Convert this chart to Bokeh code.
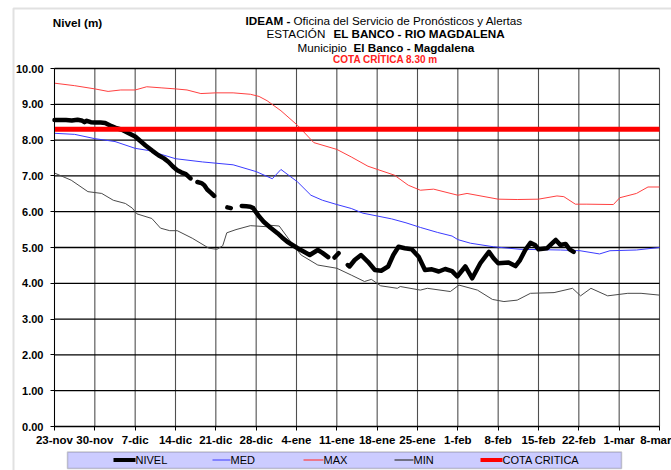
from bokeh.plotting import figure
from bokeh.models import FixedTicker, PrintfTickFormatter, Label, BoxAnnotation, Range1d
from bokeh.embed import file_html
from bokeh.resources import INLINE

nan = float("nan")

# x axis: days since 23-nov
tick_days = [0, 7, 14, 21, 28, 35, 42, 49, 56, 63, 70, 77, 84, 91, 98, 105]
tick_labels = ["23-nov", "30-nov", "7-dic", "14-dic", "21-dic", "28-dic", "4-ene", "11-ene",
               "18-ene", "25-ene", "1-feb", "8-feb", "15-feb", "22-feb", "1-mar", "8-mar"]
y_ticks = [0, 1, 2, 3, 4, 5, 6, 7, 8, 9, 10]

nivel_day = [0, 1, 2, 3, 4, 4.7, 5.2, 5.6, 6.3, 7, 8, 8.8, 9.9, 10.8, 11.7, 12.8, 14, 15, 15.8, 17,
             18.1, 19, 19.8, 20.5, 21.3, 22, 22.8, 23.6, nan,
             24.8, 25.5, 26, 26.5, 27.2, 27.7, nan,
             30, 30.6, nan,
             32.5, 33.3, 34, 34.5, 34.9, 35.6, 36.3, 37.5, 38.7, 39.5, 40.4, 41.3, 42.2, 43.3, 44.3,
             45, 45.7, 46.5, 47.5, nan,
             48.6, 49.3, nan,
             50.9, 51.2, 52.1, 53.2, 54.4, 55.6, 56.7, 57.9, 58.8, 59.7, 60.8, 62, 63.2, 64.3, 65.5,
             66.7, 67.8, 69, 69.9, 71.3, 72.5, 73.9, 75.4, 76.2, 77, 78.8, 80, 80.8, 81.7, 82.6,
             83.4, 84, 85.5, 86.4, 87, 87.8, 88.7, 89.4, 90.1]
nivel_val = [8.56, 8.56, 8.56, 8.55, 8.57, 8.55, 8.50, 8.54, 8.50, 8.49, 8.49, 8.48, 8.39, 8.33, 8.29,
             8.20, 8.10, 7.96, 7.85, 7.70, 7.57, 7.49, 7.39, 7.27, 7.16, 7.10, 7.05, 6.93, nan,
             6.83, 6.80, 6.74, 6.62, 6.52, 6.44, nan,
             6.12, 6.10, nan,
             6.16, 6.15, 6.14, 6.10, 6.00, 5.85, 5.72, 5.55, 5.40, 5.28, 5.16, 5.07, 4.98, 4.88, 4.79,
             4.86, 4.93, 4.85, 4.73, nan,
             4.72, 4.84, nan,
             4.51, 4.47, 4.65, 4.79, 4.60, 4.37, 4.35, 4.47, 4.79, 5.02, 4.98, 4.95, 4.74, 4.37, 4.39,
             4.33, 4.40, 4.34, 4.19, 4.47, 4.14, 4.56, 4.88, 4.70, 4.56, 4.58, 4.48, 4.65, 4.93, 5.13,
             5.07, 4.95, 4.98, 5.12, 5.21, 5.07, 5.10, 4.95, 4.88]

med_day = [0, 3.5, 7, 10.5, 14, 16.3, 21, 25.7, 31, 35, 37.8, 39.3, 42.2, 44.5, 46.5, 49, 51.5, 53.5,
           56, 58.5, 61, 63.5, 66.5, 69, 70, 72.2, 76.2, 80.8, 87.8, 91.2, 94.6, 96.4, 101, 105]
med_val = [8.19, 8.16, 8.04, 7.96, 7.77, 7.71, 7.48, 7.39, 7.31, 7.12, 6.92, 7.18, 6.83, 6.46, 6.32,
           6.20, 6.09, 5.96, 5.88, 5.80, 5.69, 5.56, 5.42, 5.32, 5.22, 5.12, 5.02, 4.95, 4.93, 4.91,
           4.82, 4.91, 4.93, 5.00]

max_day = [0, 3.5, 7, 9.3, 11.5, 14, 16, 18.5, 21, 23, 25.4, 28, 31, 34, 35.5, 36.9, 39.3, 42.2, 45,
           49, 51.5, 54.4, 59, 61.4, 63.5, 65.8, 70, 71.6, 77, 80.3, 84, 87.2, 88.4, 90.4, 92.4, 97,
           98.1, 101, 103, 105]
max_val = [9.59, 9.52, 9.43, 9.36, 9.40, 9.40, 9.49, 9.46, 9.43, 9.40, 9.30, 9.32, 9.32, 9.28, 9.22,
           9.10, 8.82, 8.41, 7.93, 7.74, 7.53, 7.27, 7.02, 6.74, 6.60, 6.63, 6.46, 6.51, 6.35, 6.34,
           6.35, 6.44, 6.42, 6.21, 6.21, 6.20, 6.39, 6.51, 6.69, 6.69]

min_day = [0, 2.9, 5.8, 8.2, 10.2, 12.3, 13.5, 14.3, 16.9, 18.4, 20, 21.3, 23.9, 26.8, 28.2, 29.2,
           29.9, 31.5, 34, 36.9, 37.5, 39, 41, 42.8, 45.7, 49, 51.5, 53.8, 55, 56.6, 59.5, 60, 63.5,
           64.7, 68.7, 70.2, 73.4, 76, 78, 80.3, 82.6, 86.7, 89.9, 91.3, 93.1, 96, 99.5, 101.8, 105]
min_val = [7.08, 6.88, 6.56, 6.51, 6.32, 6.23, 6.10, 5.94, 5.81, 5.54, 5.47, 5.47, 5.26, 4.98, 4.95,
           5.05, 5.41, 5.50, 5.61, 5.58, 5.62, 5.60, 5.16, 4.79, 4.51, 4.42, 4.23, 4.05, 4.11, 3.93,
           3.86, 3.91, 3.81, 3.86, 3.77, 3.95, 3.81, 3.55, 3.49, 3.53, 3.72, 3.74, 3.86, 3.65, 3.86,
           3.65, 3.72, 3.72, 3.67]

cota_day = [0, 105]
cota_val = [8.30, 8.30]

FONT = "Liberation Sans"

# page layout (pixels); the frame covers the whole canvas, the chart region sits inside it
W, H = 671, 470
CL, CT, CR, CB = 54, 68, 659, 426          # chart (axes) region in pixels
X0, X1 = tick_days[0], tick_days[-1]
Y0, Y1 = y_ticks[0], y_ticks[-1]
xs = (X1 - X0) / (CR - CL)
ys = (Y1 - Y0) / (CB - CT)

p = figure(width=W, height=H, output_backend="svg", toolbar_location=None,
           x_range=Range1d(X0 - CL * xs, X1 + (W - CR) * xs),
           y_range=Range1d(Y0 - (H - CB) * ys, Y1 + CT * ys),
           min_border=0)
p.outline_line_color = None
p.background_fill_color = "white"
p.border_fill_color = "white"
p.xgrid.visible = False
p.ygrid.visible = False

# axes, pinned to the chart region
p.xaxis.fixed_location = Y0
p.xaxis.bounds = (X0, X1)
p.yaxis.fixed_location = X0
p.yaxis.bounds = (Y0, Y1)
p.xaxis.ticker = FixedTicker(ticks=tick_days)
p.xaxis.major_label_overrides = {d: lab for d, lab in zip(tick_days, tick_labels)}
p.yaxis.ticker = FixedTicker(ticks=y_ticks)
p.yaxis.formatter = PrintfTickFormatter(format="%.2f")
for ax in (p.xaxis, p.yaxis):
    ax.axis_line_color = "black"
    ax.major_tick_line_color = "black"
    ax.major_tick_in = 0
    ax.major_tick_out = 4
    ax.minor_tick_line_color = None
    ax.major_label_text_font_style = "bold"
    ax.major_label_text_color = "black"
    ax.major_label_text_font = FONT
p.xaxis.major_label_text_font_size = "11.5px"
p.xaxis.major_label_standoff = 3
p.yaxis.major_label_text_font_size = "11px"
p.yaxis.major_label_standoff = 7

# grid lines of the chart region
p.segment(x0=tick_days, y0=[Y0] * len(tick_days), x1=tick_days, y1=[Y1] * len(tick_days),
          line_color="#505050", line_width=1.1)
p.segment(x0=[X0] * len(y_ticks), y0=y_ticks, x1=[X1] * len(y_ticks), y1=y_ticks,
          line_color="black", line_width=1.3)

# series
p.line(min_day, min_val, line_color="#4a4a4a", line_width=1)
p.line(med_day, med_val, line_color="#3b3bff", line_width=1)
p.line(max_day, max_val, line_color="#ff4040", line_width=1)
p.line(nivel_day, nivel_val, line_color="black", line_width=4.5, line_cap="round", line_join="round")
p.line(cota_day, cota_val, line_color="#ff0000", line_width=5)


def box(l, t, r, b, **kw):
    p.add_layout(BoxAnnotation(left=l, right=r, top=t, bottom=b,
                               left_units="canvas", right_units="canvas",
                               top_units="canvas", bottom_units="canvas", **kw))


def lab(x, y, text, size="11.7px", style="normal", color="black", align="left"):
    p.add_layout(Label(x=x, y=y, x_units="canvas", y_units="canvas", text=text,
                       text_font=FONT, text_font_size=size, text_font_style=style,
                       text_color=color, text_align=align, text_baseline="middle"))


# outer frame of the chart area
box(13, 8, 900, 900, fill_alpha=0, line_color="#9a9a9a", line_width=2)

# titles
lab(77, 22, "Nivel (m)", style="bold", align="center")
lab(245, 19.5, "IDEAM -", style="bold")
lab(293, 19.5, "Oficina  del Servicio de Pronósticos y Alertas")
lab(266, 32.5, "ESTACIÓN")
lab(333, 32.5, "EL BANCO - RIO MAGDALENA", style="bold")
lab(297, 46.5, "Municipio")
lab(353, 46.5, "El Banco - Magdalena", style="bold")
lab(385, 58.5, "COTA CRÍTICA 8.30 m", size="10px", style="bold", color="#ff2020", align="center")

# legend
box(67, 451.5, 621, 468, fill_color="#ccccff", fill_alpha=1, line_color="#5a5a5a", line_width=1.5)
legend_items = [("NIVEL", 113, 135, "black", 4), ("MED", 212, 230, "#3b3bff", 1.2),
                ("MAX", 303, 323, "#ff4040", 1.2), ("MIN", 394, 413, "#333333", 1.2),
                ("COTA CRITICA", 480, 502, "#ff0000", 4)]
for name, x0, x1, col, th in legend_items:
    box(x0, 459.5 - th / 2, x1, 459.5 + th / 2, fill_color=col, fill_alpha=1, line_color=None)
    lab(x1, 459.5, name, size="11px")

open("out.html", "w").write(file_html(p, INLINE))
